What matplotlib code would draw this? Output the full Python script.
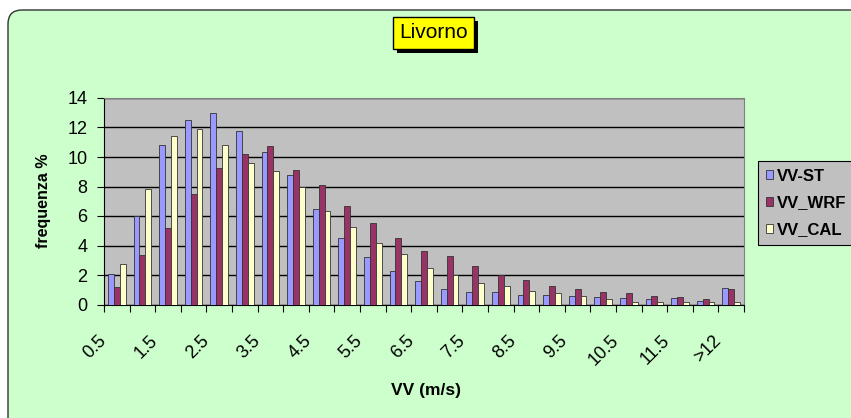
import numpy as np
import matplotlib
matplotlib.use('Agg')
import matplotlib.pyplot as plt
from matplotlib.patches import FancyBboxPatch, Rectangle
from matplotlib.transforms import IdentityTransform
import matplotlib.patheffects as pe

plt.rcParams['font.family'] = ['Liberation Sans', 'DejaVu Sans']

# velocity classes (m/s)
categories = ['0.5', '1', '1.5', '2', '2.5', '3', '3.5', '4', '4.5', '5', '5.5', '6',
              '6.5', '7', '7.5', '8', '8.5', '9', '9.5', '10', '10.5', '11', '11.5', '12', '>12']
vv_st = [2.08, 6.03, 10.78, 12.5, 12.98, 11.78, 10.31, 8.77, 6.46, 4.49, 3.19, 2.29,
         1.61, 1.06, 0.82, 0.82, 0.63, 0.63, 0.57, 0.48, 0.41, 0.39, 0.41, 0.27, 1.09]
vv_wrf = [1.16, 3.38, 5.21, 7.48, 9.24, 10.19, 10.74, 9.13, 8.09, 6.68, 5.53, 4.49,
          3.62, 3.26, 2.58, 2.02, 1.68, 1.25, 1.06, 0.82, 0.75, 0.61, 0.48, 0.39, 1.02]
vv_cal = [2.76, 7.84, 11.4, 11.9, 10.78, 9.56, 9.06, 7.95, 6.32, 5.23, 4.17, 3.40,
          2.47, 2.02, 1.43, 1.25, 0.93, 0.75, 0.57, 0.39, 0.2, 0.14, 0.14, 0.14, 0.2]
series = [('VV-ST', vv_st, '#9999FF'), ('VV_WRF', vv_wrf, '#993366'), ('VV_CAL', vv_cal, '#FFFFCC')]

W, H = 851, 418
fig = plt.figure(figsize=(W / 100, H / 100), dpi=100)
fig.patch.set_facecolor('#CCFFCC')

# white margin at top / left, then the rounded green chart area with its border
idt = IdentityTransform()
for r in [Rectangle((0, H - 10), W, 10), Rectangle((0, 0), 8, H), Rectangle((8, H - 26), 16, 16)]:
    r.set_transform(idt)
    r.set_facecolor('white')
    r.set_edgecolor('none')
    r.set_zorder(-10)
    fig.patches.append(r)
bg = FancyBboxPatch((8, -20), W + 20, H - 10 + 20, boxstyle='round,pad=0,rounding_size=14',
                    transform=idt, facecolor='#CCFFCC', edgecolor='#333333',
                    linewidth=1.0, zorder=-5)
fig.patches.append(bg)

ax = fig.add_axes([104 / W, 1 - 304.5 / H, (744 - 104) / W, (304.5 - 98) / H])
ax.set_facecolor('#C0C0C0')

x = np.arange(len(categories))
bw = 0.23
for i, (name, vals, col) in enumerate(series):
    ax.bar(x + (i - 1) * bw, vals, bw, color=col, edgecolor='#333333', linewidth=0.6,
           label=name, zorder=3)

ax.set_xlim(-0.5, len(categories) - 0.5)
ax.set_ylim(0, 14)
ax.set_yticks(np.arange(0, 15, 2))
ax.yaxis.grid(True, color='black', linewidth=1.0, zorder=1)
ax.set_axisbelow(True)

# category boundaries get the tick marks, every second category gets a label
ax.xaxis.remove_overlapping_locs = False
ax.set_xticks(np.arange(len(categories) + 1) - 0.5)
ax.set_xticklabels([])
ax.set_xticks(x[::2] - 0.5, minor=True)
ax.set_xticklabels(categories[::2], minor=True, rotation=45, ha='right', va='center',
                   rotation_mode='anchor', fontsize=13)
ax.tick_params(axis='x', which='minor', length=0, pad=24)
ax.tick_params(axis='x', which='major', length=5, direction='out', color='black')
ax.tick_params(axis='y', length=5, direction='out', labelsize=13, color='black', pad=7)

for s in ['top', 'right']:
    ax.spines[s].set_color('#808080')
for s in ['left', 'bottom']:
    ax.spines[s].set_color('black')

ax.set_ylabel('frequenza %', fontsize=11.5, fontweight='bold', labelpad=12)
fig.text(426 / W, 1 - 391 / H, 'VV (m/s)', ha='center', va='center', fontsize=12.5, fontweight='bold')

# title with shadowed yellow box
t = fig.text(433.5 / W, 1 - 33 / H, 'Livorno', ha='center', va='center', fontsize=15, color='black',
             bbox=dict(boxstyle='square,pad=0.3', facecolor='#FFFF00', edgecolor='black'))
t.get_bbox_patch().set_path_effects([pe.SimplePatchShadow(offset=(3, -3), shadow_rgbFace='black', alpha=1.0),
                                     pe.Normal()])

leg = fig.legend(loc='center left', bbox_to_anchor=(758 / W, 1 - 203 / H), frameon=True,
                 fancybox=False, facecolor='#C0C0C0', edgecolor='black', framealpha=1,
                 prop={'size': 12, 'weight': 'bold'}, handlelength=0.45, handleheight=0.45,
                 handletextpad=0.25, labelspacing=0.7, borderpad=0.45, borderaxespad=0)
leg.get_frame().set_linewidth(0.8)

plt.savefig('out.png', dpi=100)
